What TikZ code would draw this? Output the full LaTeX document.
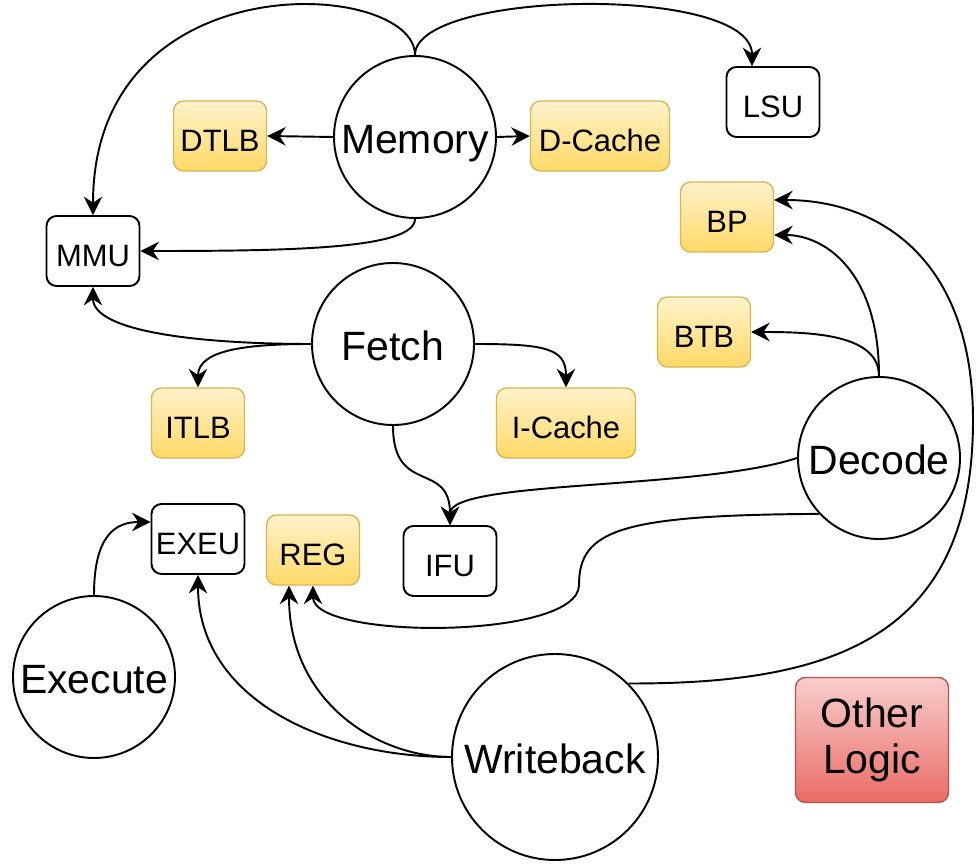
\documentclass[tikz,border=0pt]{standalone}
\usepackage{fontspec}
\setmainfont{Liberation Sans}
\usetikzlibrary{arrows.meta}

\definecolor{cacheTop}{HTML}{FFF2CC}
\definecolor{cacheBottom}{HTML}{FFD966}
\definecolor{cacheLine}{HTML}{D6B656}
\definecolor{otherTop}{HTML}{F8CECC}
\definecolor{otherBottom}{HTML}{EA6B66}
\definecolor{otherLine}{HTML}{B85450}

\begin{document}
\begin{tikzpicture}[
    every node/.style={font=\fontsize{17.6}{20}\selectfont},
    >={Stealth[length=10.5pt, width=10.5pt, inset=3.5pt]},
    link/.style={->, line width=1.1pt},
    stage/.style={draw, circle, line width=1.1pt, minimum size=3.24cm,
        inner sep=0pt, text height=19pt, text depth=0pt,
        font=\fontsize{23.3}{26}\selectfont},
    unit/.style={draw, rounded corners=0.2cm, line width=1.1pt,
        minimum width=1.86cm, minimum height=1.4cm, inner sep=0pt,
        text height=17.6pt, text depth=0pt},
    cache/.style={unit, draw=cacheLine, line width=0.8pt,
        top color=cacheTop, bottom color=cacheBottom},
]
\useasboundingbox (0, 0) rectangle (19.54, -17.30);

% =============================================================================
% Pipeline stages
% =============================================================================
\node[stage] (mem)   at (8.30, -2.74)  {Memory};
\node[stage] (fetch) at (7.86, -6.88)  {Fetch};
\node[stage] (dec)   at (17.58, -9.16) {Decode};
\node[stage] (exe)   at (1.88, -13.54) {Execute};
\node[stage, minimum size=4.12cm] (wb) at (11.10, -15.14) {Writeback};

% =============================================================================
% Units and storage
% =============================================================================
\node[cache] (dtlb) at (4.40, -2.72) {DTLB};
\node[unit]  (mmu)  at (1.86, -5.02) {MMU};
\node[cache, minimum width=2.78cm] (dcache) at (12.00, -2.72) {D-Cache};
\node[unit]  (lsu)  at (15.46, -2.04) {LSU};
\node[cache] (bp)   at (14.54, -4.34) {BP};
\node[cache] (btb)  at (14.08, -6.64) {BTB};
\node[cache] (itlb) at (3.96, -8.46) {ITLB};
\node[cache, minimum width=2.78cm] (icache) at (11.32, -8.46) {I-Cache};
\node[unit]  (exeu) at (3.96, -10.78) {EXEU};
\node[cache] (reg)  at (6.26, -11.00) {REG};
\node[unit]  (ifu)  at (9.00, -11.22) {IFU};

% Other logic
\node[draw=otherLine, line width=0.8pt, rounded corners=0.2cm,
      top color=otherTop, bottom color=otherBottom,
      minimum width=3.06cm, minimum height=2.5cm, inner sep=0pt,
      align=center, font=\fontsize{23.3}{26}\selectfont]
    (other) at (17.44, -14.80) {Other\\Logic};

% =============================================================================
% Memory connections
% =============================================================================
\draw[link] (mem.north) .. controls +(0, 1.52) and +(0, 5.12) .. (mmu.north);
\draw[link] (mem.north) .. controls +(0, 1.3) and +(0, 1.64)
    .. ([xshift=-0.42cm]lsu.north);
\draw[link] (mem.west) -- (dtlb.east);
\draw[link] (mem.east) -- (dcache.west);
\draw[link] (mem.south) .. controls +(0, -0.6) and +(3.0, 0) .. (mmu.east);

% =============================================================================
% Fetch connections
% =============================================================================
\draw[link] (fetch.west) .. controls +(-2.2, 0) and +(0, -0.9) .. (mmu.south);
\draw[link] (fetch.west) .. controls +(-1.24, 0) and +(0, 0.76) .. (itlb.north);
\draw[link] (fetch.east) .. controls +(1.42, 0) and +(0, 0.78) .. (icache.north);
\draw[link] (fetch.south) .. controls +(0, -1.4) and +(0, 1.3) .. (ifu.north);

% =============================================================================
% Decode connections
% =============================================================================
\draw[link] (dec.west) .. controls (14.0, -9.8) and (9.0, -9.6) .. (ifu.north);
\draw[link] (dec.223) .. controls (12.4, -10.30) and (11.58, -10.6)
    .. (11.58, -11.70) .. controls (11.58, -12.8) and (6.26, -12.8)
    .. (reg.south);
\draw[link] (dec.north) .. controls +(0, 0.84) and +(1.2, 0) .. (btb.east);
\draw[link] (dec.north) .. controls +(0, 2.1) and +(1.0, 0)
    .. ([yshift=-0.36cm]bp.east);

% =============================================================================
% Execute and writeback connections
% =============================================================================
\draw[link] (exe.north) .. controls +(0, 1.2) and +(-0.7, 0)
    .. ([yshift=0.34cm]exeu.west);
\draw[link] (wb.west) .. controls +(-2.5, 0) and +(0, -2.5) .. (exeu.south);
\draw[link] (wb.west) .. controls +(-1.5, 0) and +(0, -2.3)
    .. ([xshift=-0.48cm]reg.south);
\draw[link] (wb.45) .. controls (16.6, -13.68) and (19.46, -12.8)
    .. (19.46, -8.4) .. controls (19.46, -5.2) and (17.6, -4.0)
    .. ([yshift=0.34cm]bp.east);

\end{tikzpicture}
\end{document}
